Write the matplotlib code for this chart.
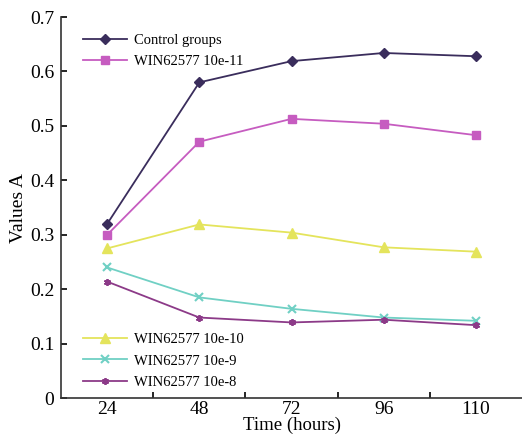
import matplotlib
matplotlib.use("Agg")
import matplotlib.pyplot as plt

# data
times = ["24", "48", "72", "96", "110"]
control = [0.320, 0.580, 0.619, 0.634, 0.628]
win_11 = [0.300, 0.471, 0.513, 0.504, 0.483]
win_10 = [0.275, 0.319, 0.304, 0.277, 0.269]
win_9 = [0.240, 0.185, 0.164, 0.148, 0.142]
win_8 = [0.214, 0.148, 0.139, 0.144, 0.134]

plt.rcParams['font.family'] = ['Liberation Serif']

fig = plt.figure(figsize=(5.22, 4.37), dpi=100)
ax = fig.add_axes([0.117, 0.089, 0.883, 0.872])
x = list(range(1, len(times) + 1))

top_lines = []
top_lines += ax.plot(x, control, color='#3a2d5c', marker='D', markersize=5, lw=1.3, label='Control groups')
top_lines += ax.plot(x, win_11, color='#c65cc0', marker='s', markersize=6, lw=1.3, label='WIN62577 10e-11')
bot_lines = []
bot_lines += ax.plot(x, win_10, color='#e4e45c', marker='^', markersize=7, lw=1.3, label='WIN62577 10e-10')
bot_lines += ax.plot(x, win_9, color='#70d0c4', marker='x', markersize=6, mew=1.5, lw=1.3, label='WIN62577 10e-9')
bot_lines += ax.plot(x, win_8, color='#8c3a88', marker=(6, 2, 0), markersize=5, mew=1.3, lw=1.3, label='WIN62577 10e-8')

ax.set_xlim(0.5, 5.5)
ax.set_ylim(0, 0.7)
ax.set_xticks(x)
ax.set_xticklabels(times)
ax.set_xticks([1.5, 2.5, 3.5, 4.5], minor=True)
ax.set_yticks([0, 0.1, 0.2, 0.3, 0.4, 0.5, 0.6, 0.7])
ax.set_yticklabels(['0', '0.1', '0.2', '0.3', '0.4', '0.5', '0.6', '0.7'])
ax.tick_params(axis='x', which='major', length=0, labelsize=14, pad=2)
ax.tick_params(axis='x', which='minor', direction='in', length=4, width=1.2)
ax.tick_params(axis='y', direction='in', length=4, width=1.2, labelsize=14, pad=5)
for s in ['top', 'right']:
    ax.spines[s].set_visible(False)
for s in ['left', 'bottom']:
    ax.spines[s].set_linewidth(1.2)
    ax.spines[s].set_color('#333333')

ax.set_xlabel('Time (hours)', fontsize=13.5, labelpad=-1)
ax.set_ylabel('Values A', fontsize=14, labelpad=2)

leg1 = ax.legend(handles=top_lines, loc='upper left', frameon=False, fontsize=10.5,
                 handlelength=3.0, handletextpad=0.5, bbox_to_anchor=(0.02, 0.99), labelspacing=0.55)
ax.add_artist(leg1)
ax.legend(handles=bot_lines, loc='lower left', frameon=False, fontsize=10.5,
          handlelength=3.0, handletextpad=0.5, bbox_to_anchor=(0.02, -0.01), labelspacing=0.55)

fig.savefig('out.png', dpi=100)
